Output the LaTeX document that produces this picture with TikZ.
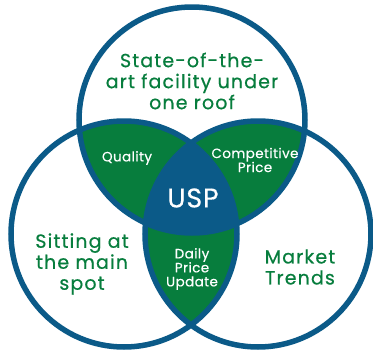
\documentclass[tikz,border=0pt]{standalone}
\usepackage{fontspec}
\setmainfont{Poppins}[LetterSpace=6,FakeBold=0.6]
\newfontfamily\innerfont{Poppins}[LetterSpace=3,FakeBold=0.4]
\definecolor{vblue}{HTML}{0B5A88}
\definecolor{vgreen}{HTML}{077D3D}
\begin{document}
\begin{tikzpicture}[x=1pt,y=-1pt,
  ring/.style={draw=vblue,line width=5.5pt},
  outer/.style={text=vgreen,align=center,font=\fontsize{19}{21}\selectfont},
  inner/.style={text=white,align=center,font=\innerfont\fontsize{13.5}{14}\selectfont}]
\useasboundingbox (0,0) rectangle (373,351);
\def\R{113}
\coordinate (T) at (192,120);
\coordinate (L) at (124,234);
\coordinate (Rr) at (258,234);
% pairwise intersections
\begin{scope}
  \clip (T) circle (\R);
  \fill[vgreen] (L) circle (\R);
  \fill[vgreen] (Rr) circle (\R);
\end{scope}
\begin{scope}
  \clip (L) circle (\R);
  \fill[vgreen] (Rr) circle (\R);
\end{scope}
\begin{scope}
  \clip (T) circle (\R);
  \clip (L) circle (\R);
  \fill[vblue] (Rr) circle (\R);
\end{scope}
\draw[ring] (T) circle (\R);
\draw[ring] (L) circle (\R);
\draw[ring] (Rr) circle (\R);
\node[outer] (top) at (192,81) {State-of-the-\\art facility under\\one roof};
\node[outer] (left) at (82,264) {Sitting at\\the main\\spot};
\node[outer] (right) at (300,267) {Market\\Trends};
\node[inner] (q) at (127,158) {Quality};
\node[inner] (cp) at (255,160) {Competitive\\Price};
\node[inner] (d) at (192,269) {Daily\\Price\\Update};
\node[text=white,font=\innerfont\fontsize{27}{28}\selectfont] (usp) at (193,198) {USP};
\end{tikzpicture}
\end{document}
